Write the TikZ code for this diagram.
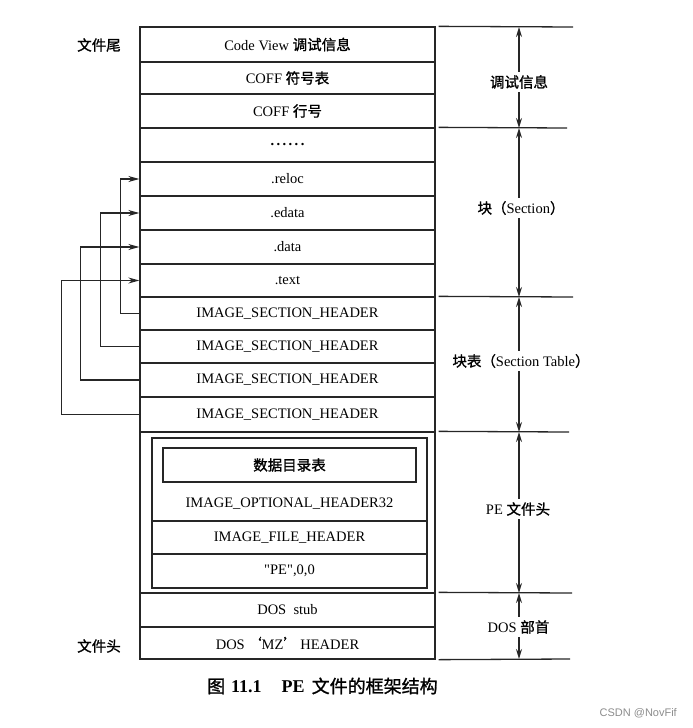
\documentclass[tikz,border=0pt]{standalone}
\usepackage{fontspec}
\setmainfont{Liberation Serif}
\newfontfamily\cjk{Noto Sans CJK SC}[FakeBold=1.2]
\newfontfamily\wmfont{Liberation Sans}
\usetikzlibrary{arrows.meta}
\newcommand\myfs{\fontsize{14.5}{17}\selectfont}
\tikzset{
  ln/.style={draw=black!85, line width=1.3pt},
  row/.style={ln, rectangle, minimum width=295pt, inner sep=0pt, font=\myfs},
  inrow/.style={ln, rectangle, minimum width=275pt, inner sep=0pt, font=\myfs},
  txt/.style={inner sep=0pt, font=\myfs},
  lbl/.style={fill=white, inner sep=3pt, font=\myfs},
  conn/.style={ln, -{Stealth[length=11pt,width=6pt]}},
  dim/.style={ln, {Stealth[length=10pt,width=6pt]}-{Stealth[length=10pt,width=6pt]}},
  hline/.style={ln}
}
\begin{document}
\begin{tikzpicture}[x=1pt,y=-1pt]
\useasboundingbox (0,0) rectangle (693,728);
% main column
\node[row, minimum height=35pt] (codeview) at (287.5,44.5) {Code View {\cjk 调试信息}};
\node[row, minimum height=32pt] (coffsym) at (287.5,78) {COFF {\cjk 符号表}};
\node[row, minimum height=34pt] (coffline) at (287.5,111) {COFF {\cjk 行号}};
\node[row, minimum height=34pt] (dots) at (287.5,145) {\textbf{.\,.\,.\,.\,.\,.}};
\node[row, minimum height=34pt] (reloc) at (287.5,179) {.reloc};
\node[row, minimum height=34pt] (edata) at (287.5,213) {.edata};
\node[row, minimum height=34pt] (data) at (287.5,247) {.data};
\node[row, minimum height=33pt] (text) at (287.5,280.5) {.text};
\node[row, minimum height=33pt] (ish1) at (287.5,313.5) {IMAGE\_SECTION\_HEADER};
\node[row, minimum height=33pt] (ish2) at (287.5,346.5) {IMAGE\_SECTION\_HEADER};
\node[row, minimum height=34pt] (ish3) at (287.5,380) {IMAGE\_SECTION\_HEADER};
\node[row, minimum height=35pt] (ish4) at (287.5,414.5) {IMAGE\_SECTION\_HEADER};
\node[row, minimum height=161pt] (pehead) at (287.5,512.5) {};
\node[row, minimum height=34pt] (dosstub) at (287.5,610) {DOS\ \ stub};
\node[row, minimum height=32pt] (dosmz) at (287.5,643) {DOS\,{\cjk ‘}MZ{\cjk ’}\,HEADER};
% PE header inner parts
\node[inrow, minimum height=83pt] (opt) at (289.5,479.5) {};
\node[ln, rectangle, minimum width=253pt, minimum height=34pt, inner sep=0pt, font=\myfs] (datadir) at (289.5,465) {{\cjk 数据目录表}};
\node[txt] (opttext) at (289.5,504) {IMAGE\_OPTIONAL\_HEADER32};
\node[inrow, minimum height=33pt] (filehdr) at (289.5,537.5) {IMAGE\_FILE\_HEADER};
\node[inrow, minimum height=34pt] (pesig) at (289.5,571) {\textquotedbl PE\textquotedbl,0,0};
% left labels
\node[txt] (tail) at (99,45) {{\cjk 文件尾}};
\node[txt] (head) at (99,646) {{\cjk 文件头}};
% connectors
\draw[conn] (ish1.west) -- ++(-19,0) |- (reloc.west);
\draw[conn] (ish2.west) -- ++(-39,0) |- (edata.west);
\draw[conn] (ish3.west) -- ++(-59,0) |- (data.west);
\draw[conn] (ish4.west) -- ++(-78,0) |- (text.west);
% right boundary lines
\coordinate (h1) at (573,27);
\coordinate (h2) at (567,128);
\coordinate (h3) at (573,297);
\coordinate (h4) at (569,432);
\coordinate (h5) at (572,593);
\coordinate (h6) at (570,659);
\draw[hline] ([xshift=3pt]codeview.north east) -- (h1);
\draw[hline] ([xshift=3pt]dots.north east) -- (h2);
\draw[hline] ([xshift=3pt]ish1.north east) -- (h3);
\draw[hline] ([xshift=3pt]pehead.north east) -- (h4);
\draw[hline] ([xshift=3pt]dosstub.north east) -- (h5);
\draw[hline] ([xshift=3pt]dosmz.south east) -- (h6);
% dimension arrows
\coordinate (a1) at (519,27);
\coordinate (a2) at (519,128);
\coordinate (a3) at (519,297);
\coordinate (a4) at (519,432);
\coordinate (a5) at (519,593);
\coordinate (a6) at (519,659);
\draw[dim] (a1) -- (a2);
\draw[dim] (a2) -- (a3);
\draw[dim] (a3) -- (a4);
\draw[dim] (a4) -- (a5);
\draw[dim] (a5) -- (a6);
\node[lbl] (l1) at (519,82) {{\cjk 调试信息}};
\node[lbl] (l2) at (521,208) {{\cjk 块（}Section{\cjk ）}};
\node[lbl] (l3) at (521,361) {{\cjk 块表（}Section Table{\cjk ）}};
\node[lbl] (l4) at (518,509) {PE {\cjk 文件头}};
\node[lbl] (l5) at (518.5,627) {DOS\ {\cjk 部首}};
% caption
\node[anchor=west, inner sep=0pt, font=\fontsize{18}{21}\selectfont] (cap) at (207,686) {{\cjk 图}\hspace{6pt}\textbf{11.1}\hspace{20pt}\textbf{PE}\hspace{7pt}{\cjk 文件的框架结构}};
\node[anchor=east, inner sep=0pt, text=black!45, font=\wmfont\fontsize{11}{13}\selectfont] (wm) at (677,713) {CSDN @NovFif};
\end{tikzpicture}
\end{document}
